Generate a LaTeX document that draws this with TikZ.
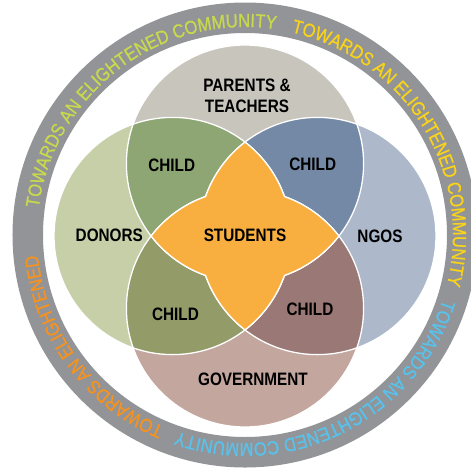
\documentclass[tikz,border=0pt]{standalone}
\usepackage{fontspec}
\setmainfont{Liberation Sans}
\newfontfamily\lblfont[FakeStretch=0.85]{Liberation Sans}
\newfontfamily\ringfont[FakeStretch=0.875,FakeBold=0.8]{Liberation Sans}
\definecolor{ringgrey}{HTML}{929497}
\definecolor{ringgreen}{HTML}{C8DA4C}
\definecolor{ringyellow}{HTML}{F8D31A}
\definecolor{ringblue}{HTML}{58C2EC}
\definecolor{ringorange}{HTML}{F6921E}
\definecolor{topc}{HTML}{C8C5BD}
\definecolor{leftc}{HTML}{C7CFA8}
\definecolor{rightc}{HTML}{ADB8CA}
\definecolor{botc}{HTML}{C3A69E}
\definecolor{tlc}{HTML}{8EA673}
\definecolor{trc}{HTML}{7389A6}
\definecolor{blc}{HTML}{939B69}
\definecolor{brc}{HTML}{9A7876}
\definecolor{starc}{HTML}{F9AF40}
\newcommand\rf{\ringfont\fontsize{19}{19}\selectfont}
% character/advance-width (em) lists; '-' marks a word space
\def\phraseFull{T/.611,O/.778,W/.944,A/.667,R/.722,D/.722,S/.667,-/.278,A/.667,N/.722,-/.278,E/.667,L/.556,I/.278,G/.778,H/.722,T/.611,E/.667,N/.722,E/.667,D/.722,-/.278,C/.722,O/.778,M/.833,M/.833,U/.722,N/.722,I/.278,T/.611,Y/.667}
\def\phraseShort{T/.611,O/.778,W/.944,A/.667,R/.722,D/.722,S/.667,-/.278,A/.667,N/.722,-/.278,E/.667,L/.556,I/.278,G/.778,H/.722,T/.611,E/.667,N/.722,E/.667,D/.722}
% #1 colour, #2 clockwise start angle, #3 list; 4.5795 deg per em at r=208
\newcommand\RingText[3]{%
  \xdef\ringacc{0}%
  \foreach \c/\w in #3 {%
    \pgfmathsetmacro\ringang{#2-(\ringacc+\w/2)*4.5795}%
    \if-\c\else
      \node[ringchar, text=#1, rotate=\ringang-90] at ([shift={(0,1)}]\ringang:208) {\c};
    \fi
    \pgfmathsetmacro\ringnew{\ringacc+\w}%
    \xdef\ringacc{\ringnew}%
  }}
\begin{document}
\begin{tikzpicture}[x=1pt,y=1pt,
  lbl/.style={font=\lblfont\bfseries\fontsize{18}{21.5}\selectfont, text=black, align=center, inner sep=0pt},
  ringchar/.style={font=\rf, anchor=base, inner sep=0pt, outer sep=0pt},
  sep/.style={draw=white, line width=1.3pt}]
\useasboundingbox (-245,-231) rectangle (226,236);
\fill[white] (-245,-231) rectangle (226,236);
% ring
\fill[ringgrey, even odd rule] (0,1) circle[radius=232.5] (0,1) circle[radius=202];
\RingText{ringgreen}{172.54}{\phraseFull}
\RingText{ringyellow}{77.14}{\phraseFull}
\RingText{ringblue}{-17.96}{\phraseFull}
\RingText{ringorange}{-112.91}{\phraseShort}
% circles
\coordinate (Ct) at (0,72.4);
\coordinate (Cl) at (-72.4,0);
\coordinate (Cr) at (72.4,0);
\coordinate (Cb) at (0,-72.4);
\fill[topc] (Ct) circle[radius=118.6];
\fill[leftc] (Cl) circle[radius=118.6];
\fill[rightc] (Cr) circle[radius=118.6];
\fill[botc] (Cb) circle[radius=118.6];
% child regions
\begin{scope}\clip (Ct) circle[radius=118.6]; \fill[tlc] (Cl) circle[radius=118.6];\end{scope}
\begin{scope}\clip (Ct) circle[radius=118.6]; \fill[trc] (Cr) circle[radius=118.6];\end{scope}
\begin{scope}\clip (Cb) circle[radius=118.6]; \fill[blc] (Cl) circle[radius=118.6];\end{scope}
\begin{scope}\clip (Cb) circle[radius=118.6]; \fill[brc] (Cr) circle[radius=118.6];\end{scope}
% white separators
\draw[sep] (Ct) circle[radius=118.6];
\draw[sep] (Cl) circle[radius=118.6];
\draw[sep] (Cr) circle[radius=118.6];
\draw[sep] (Cb) circle[radius=118.6];
% star
\path[fill=starc, sep] (0,93.94)
  arc[start angle=127.62, end angle=160.57, radius=118.6]
  arc[start angle=109.43, end angle=142.38, radius=118.6]
  arc[start angle=217.62, end angle=250.57, radius=118.6]
  arc[start angle=199.43, end angle=232.38, radius=118.6]
  arc[start angle=307.62, end angle=340.57, radius=118.6]
  arc[start angle=289.43, end angle=322.38, radius=118.6]
  arc[start angle=37.62, end angle=70.57, radius=118.6]
  arc[start angle=19.43, end angle=52.38, radius=118.6] -- cycle;
% labels
\node[lbl] (parents) at (2,140) {PARENTS \&\\TEACHERS};
\node[lbl] (students) at (0,0.5) {STUDENTS};
\node[lbl] (childtl) at (-73.3,70.5) {CHILD};
\node[lbl] (childtr) at (67.7,71.5) {CHILD};
\node[lbl] (childbl) at (-69.5,-78.5) {CHILD};
\node[lbl] (childbr) at (65,-73) {CHILD};
\node[lbl] (donors) at (-135.7,0.5) {DONORS};
\node[lbl] (ngos) at (135,-0.5) {NGOS};
\node[lbl] (gov) at (8,-143) {GOVERNMENT};
\end{tikzpicture}
\end{document}
